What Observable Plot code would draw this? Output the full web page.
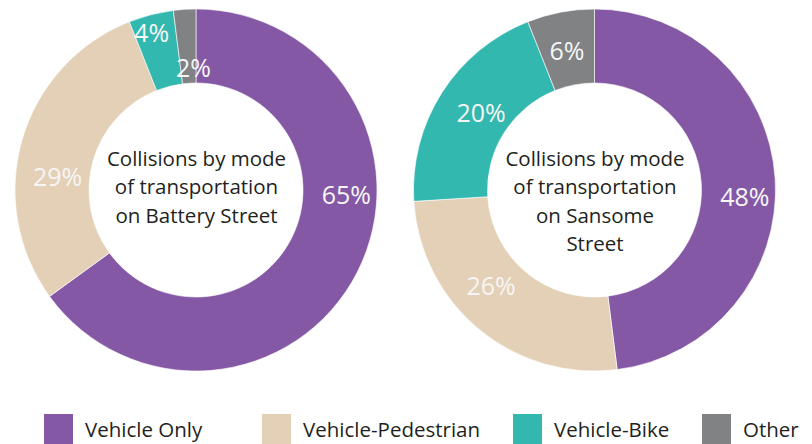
<!DOCTYPE html>
<html><head><meta charset="utf-8">
<script src="https://cdn.jsdelivr.net/npm/d3@7"></script>
<script src="https://cdn.jsdelivr.net/npm/@observablehq/plot@0.6"></script>
<style>
body{margin:0;background:#fff;}
#chart{width:812px;height:444px;overflow:hidden;position:relative;}
#legend > div{font:20.5px "Open Sans",sans-serif !important;color:#231f20;margin:0 !important;padding-left:44px;display:flex !important;flex-wrap:nowrap !important;align-items:center;min-height:0 !important;margin-top:2px !important;}
#legend span{margin-right:0 !important;display:inline-flex;align-items:center;white-space:nowrap;}
#legend span svg{margin-right:12px !important;}
#legend span:nth-of-type(1){width:218px;}
#legend span:nth-of-type(2){width:251px;}
#legend span:nth-of-type(3){width:189px;}
</style></head><body><div id="chart"></div>
<script>
// ---- data ----
const categories = ["Vehicle Only", "Vehicle-Pedestrian", "Vehicle-Bike", "Other"];
const colors = ["#8558a6", "#e3d0b6", "#33b8b0", "#818284"];
const streets = ["Battery Street", "Sansome Street"];
const batteryValues = [65, 29, 4, 2];
const sansomeValues = [48, 26, 20, 6];
const titles = ["Collisions by mode\nof transportation\non Battery Street",
                "Collisions by mode\nof transportation\non Sansome\nStreet"];

// ---- layout ----
const W = 812, H = 412;
const centers = [[196, 190], [594.5, 190]];
const outerR = 181, innerR = 107;
const labelAngles = [[92, 275, 344, 358.6], [92.7, 227, 304, 348.5]];
const labelRadii = [[150, 139.5, 163, 122], [150, 142, 137.5, 141]];

const valueSets = [batteryValues, sansomeValues];
const colorOf = d3.scaleOrdinal(categories, colors);
const pie = d3.pie().sort(null).value(d => d.value);

const slices = [];
const labels = [];
streets.forEach((s, i) => {
  const rows = categories.map((c, j) => ({street: s, category: c, value: valueSets[i][j]}));
  pie(rows).forEach((p, j) => {
    slices.push({...p.data, cx: centers[i][0], cy: centers[i][1], startAngle: p.startAngle, endAngle: p.endAngle});
    const a = labelAngles[i][j] * Math.PI / 180, r = labelRadii[i][j];
    labels.push({text: `${p.data.value}%`, x: centers[i][0] + r * Math.sin(a), y: centers[i][1] - r * Math.cos(a)});
  });
});
const titleRows = streets.map((s, i) => ({text: titles[i], x: centers[i][0], y: 145}));

const arcMark = (index, scales) => {
  const g = d3.create("svg:g");
  const arc = d3.arc();
  for (const d of slices) {
    const cx = scales.x(d.cx), cy = scales.y(d.cy);
    const ro = Math.abs(scales.x(d.cx + outerR) - cx), ri = Math.abs(scales.x(d.cx + innerR) - cx);
    g.append("path")
      .attr("transform", `translate(${cx},${cy})`)
      .attr("d", arc({innerRadius: ri, outerRadius: ro, startAngle: d.startAngle, endAngle: d.endAngle}))
      .attr("fill", colorOf(d.category))
      .attr("stroke", "#ffffff").attr("stroke-width", 0.6);
  }
  return g.node();
};

const chart = Plot.plot({
  width: W, height: H,
  margin: 0,
  x: {domain: [0, W], range: [0, W], axis: null},
  y: {domain: [0, H], range: [0, H], axis: null},
  style: {fontFamily: "'Open Sans', sans-serif", background: "#fff", overflow: "visible"},
  marks: [
    arcMark,
    Plot.text(labels, {x: "x", y: "y", text: "text", fontSize: 25, fill: "#f6f6f6"}),
    Plot.text(titleRows, {x: "x", y: "y", text: "text", fontSize: 20.5, fill: "#231f20", lineAnchor: "top", lineHeight: 1.39})
  ]
});
document.getElementById("chart").appendChild(chart);

const legendWrap = document.createElement("div");
legendWrap.id = "legend";
legendWrap.appendChild(Plot.legend({color: {type: "ordinal", domain: categories, range: colors}, swatchWidth: 29, swatchHeight: 30}));
document.getElementById("chart").appendChild(legendWrap);
</script></body></html>
